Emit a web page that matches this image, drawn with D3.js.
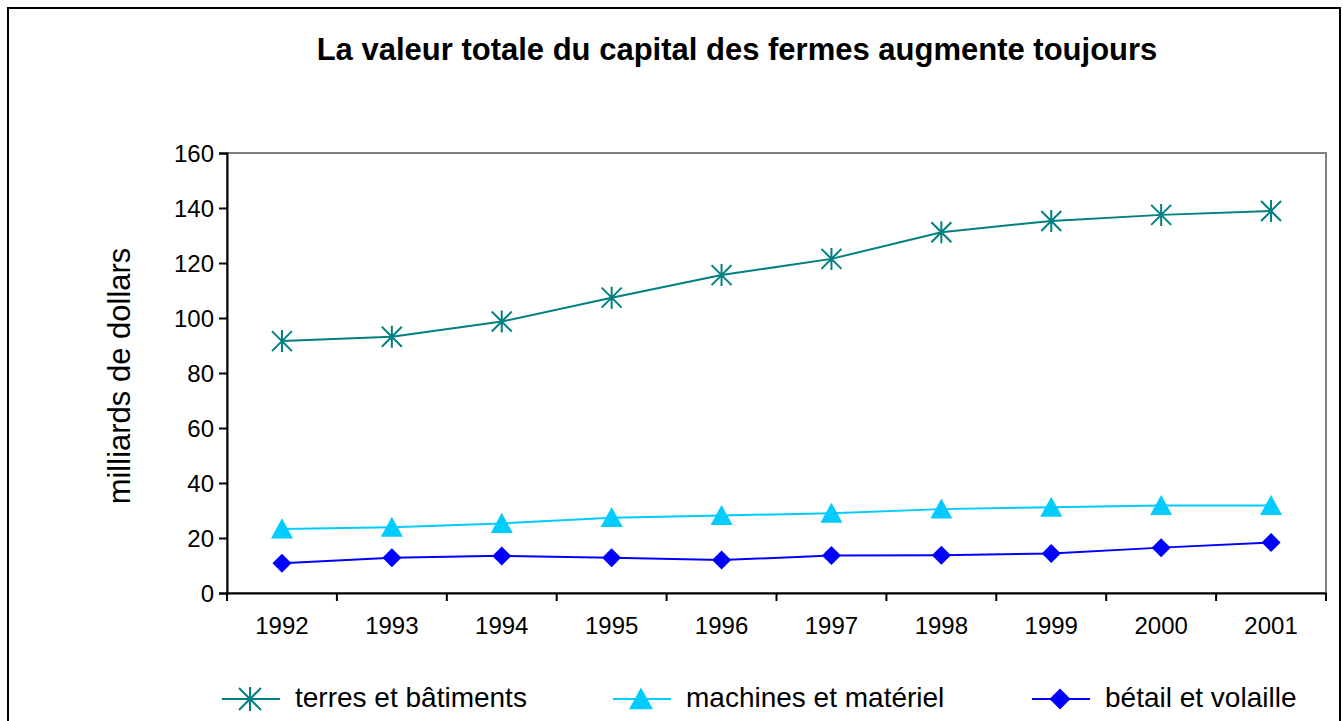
<!DOCTYPE html>
<html>
<head>
<meta charset="utf-8">
<script src="https://cdn.jsdelivr.net/npm/d3@7"></script>
<style>
  body { margin: 0; background: #fff; }
  svg text { font-family: "Liberation Sans", Arial, sans-serif; fill: #000; }
</style>
</head>
<body>
<div class="chart"></div>
<script>
var years = ['1992', '1993', '1994', '1995', '1996', '1997', '1998', '1999', '2000', '2001'];
var terres = [91.6, 93.2, 98.7, 107.4, 115.6, 121.5, 131.2, 135.3, 137.5, 138.9];
var machines = [23.3, 23.9, 25.3, 27.4, 28.2, 29.0, 30.5, 31.2, 31.8, 31.8];
var betail = [10.8, 12.8, 13.5, 12.8, 12.0, 13.6, 13.7, 14.4, 16.5, 18.4];
var yTicks = [0, 20, 40, 60, 80, 100, 120, 140, 160];
var seriesNames = ['terres et bâtiments', 'machines et matériel', 'bétail et volaille'];

var W = 1343, H = 721;
var margin = {top: 153, left: 227, right: 17, bottom: 128};
var width = W - margin.left - margin.right,
    height = H - margin.top - margin.bottom;

var svg = d3.select('.chart').append('svg')
    .attr('width', W).attr('height', H);

// outer frame
svg.append('rect')
    .attr('x', 8).attr('y', 8)
    .attr('width', 1332).attr('height', 730)
    .attr('fill', '#fff').attr('stroke', '#000').attr('stroke-width', 2);

svg.append('text')
    .attr('x', 737).attr('y', 60)
    .attr('text-anchor', 'middle')
    .style('font-size', '31px').style('font-weight', 'bold')
    .text('La valeur totale du capital des fermes augmente toujours');

var g = svg.append('g')
    .attr('transform', 'translate(' + margin.left + ',' + margin.top + ')');

var x = d3.scaleBand().domain(years).range([0, width]);
var y = d3.scaleLinear().domain([0, 160]).range([height, 0]);

// plot frame (top/right grey)
g.append('rect')
    .attr('width', width).attr('height', height)
    .attr('fill', 'none').attr('stroke', '#808080').attr('stroke-width', 2);

// y axis
var yAxis = g.append('g')
    .call(d3.axisLeft(y).tickValues(yTicks).tickSize(8).tickPadding(5));
yAxis.select('.domain').attr('stroke', '#000').attr('stroke-width', 2);
yAxis.selectAll('.tick line').attr('stroke-width', 2);
yAxis.selectAll('.tick text').style('font-size', '24px').attr('dy', '0.35em');

// x axis: labels centred, ticks on band edges
var xAxis = g.append('g')
    .attr('transform', 'translate(0,' + height + ')')
    .call(d3.axisBottom(x).tickSize(0).tickPadding(24));
xAxis.select('.domain').attr('stroke', '#000').attr('stroke-width', 2);
xAxis.selectAll('.tick text').style('font-size', '24px');
var edges = years.map(function(d) { return x(d); }).concat([x.range()[1]]);
xAxis.selectAll('.edge')
    .data(edges)
    .enter().append('line')
    .attr('x1', function(d) { return d; }).attr('x2', function(d) { return d; })
    .attr('y1', 0).attr('y2', 8)
    .attr('stroke', '#000').attr('stroke-width', 2);

svg.append('text')
    .attr('transform', 'translate(130,' + (margin.top + height / 2 + 3) + ') rotate(-90)')
    .attr('text-anchor', 'middle')
    .style('font-size', '31px')
    .text('milliards de dollars');

function starPath(s) {
    var r = s / 2;
    return 'M' + (-r) + ',' + (-r) + 'L' + r + ',' + r +
           'M' + (-r) + ',' + r + 'L' + r + ',' + (-r) +
           'M0,' + (-r * 1.1) + 'L0,' + (r * 1.1);
}
function triPath(s) {
    var w = s / 2;
    return 'M0,' + (-s * 0.48) + 'L' + w + ',' + (s * 0.43) + 'L' + (-w) + ',' + (s * 0.43) + 'Z';
}
function diamondPath(s) {
    var r = s / 2;
    return 'M0,' + (-r) + 'L' + r + ',0L0,' + r + 'L' + (-r) + ',0Z';
}

var series = [
    {name: seriesNames[0], values: terres, color: '#008080', marker: starPath, size: 20, fill: false},
    {name: seriesNames[1], values: machines, color: '#00CCFF', marker: triPath, size: 22, fill: true},
    {name: seriesNames[2], values: betail, color: '#0000FF', marker: diamondPath, size: 19, fill: true}
];

var cx = function(i) { return x(years[i]) + x.bandwidth() / 2; };
var line = d3.line()
    .x(function(d, i) { return cx(i); })
    .y(function(d) { return y(d); });

series.forEach(function(s) {
    g.append('path')
        .datum(s.values)
        .attr('d', line)
        .attr('fill', 'none')
        .attr('stroke', s.color)
        .attr('stroke-width', 2);

    g.selectAll(null)
        .data(s.values)
        .enter().append('path')
        .attr('transform', function(d, i) { return 'translate(' + cx(i) + ',' + y(d) + ')'; })
        .attr('d', s.marker(s.size))
        .attr('fill', s.fill ? s.color : 'none')
        .attr('stroke', s.color)
        .attr('stroke-width', s.fill ? 0 : 2);
});

// legend
var legendX = [222, 613, 1032];
var legend = svg.selectAll('.legend')
    .data(series)
    .enter().append('g')
    .attr('class', 'legend')
    .attr('transform', function(d, i) { return 'translate(' + legendX[i] + ',699)'; });

legend.append('line')
    .attr('x1', 0).attr('x2', 58)
    .attr('stroke', function(d) { return d.color; })
    .attr('stroke-width', 2);
legend.append('path')
    .attr('transform', 'translate(28,0)')
    .attr('d', function(d) { return d.marker(d.size + 2); })
    .attr('fill', function(d) { return d.fill ? d.color : 'none'; })
    .attr('stroke', function(d) { return d.color; })
    .attr('stroke-width', function(d) { return d.fill ? 0 : 2; });
legend.append('text')
    .attr('x', 73).attr('dy', '0.3em')
    .style('font-size', '28px')
    .text(function(d) { return d.name; });
</script>
</body>
</html>
